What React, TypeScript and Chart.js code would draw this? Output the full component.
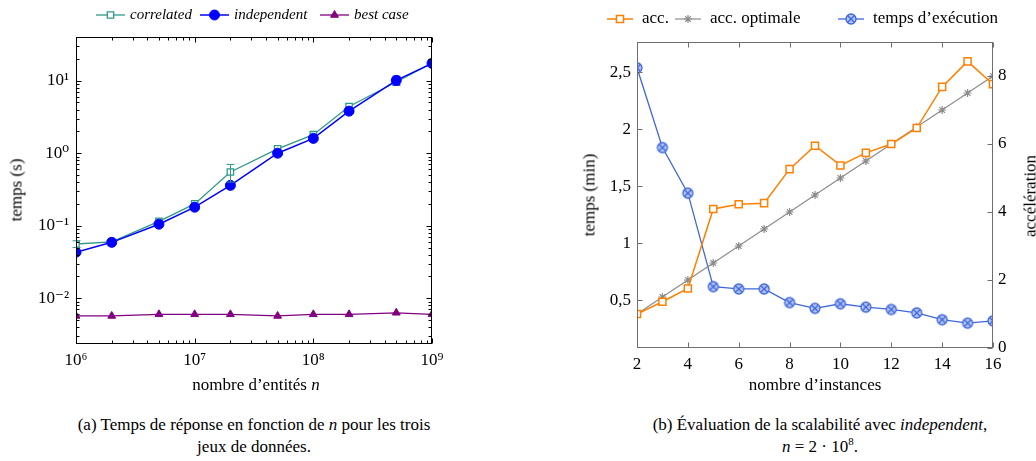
import React, { useEffect, useRef } from 'react';
import { Chart, registerables } from 'chart.js';
import { drawPoint } from 'chart.js/helpers';

Chart.register(...registerables);

// ---------- Data: (a) response time vs n ----------
const nValues = [1e6, 2e6, 5e6, 1e7, 2e7, 5e7, 1e8, 2e8, 5e8, 1e9];
const correlated = [0.056, 0.06, 0.115, 0.2, 0.55, 1.15, 1.8, 4.4, 9.6, 17.5];
const correlatedErr = [0.006, 0, 0, 0, 0.15, 0, 0, 0, 0, 0];
const independent = [0.043, 0.059, 0.105, 0.18, 0.36, 1.0, 1.6, 3.8, 10.1, 17.3];
const independentErr = [0, 0, 0, 0, 0, 0, 0, 0, 1.4, 0];
const bestCase = [0.0057, 0.0057, 0.006, 0.006, 0.006, 0.0057, 0.006, 0.006, 0.0063, 0.006];
const logXTicks = [1e6, 1e7, 1e8, 1e9];
const logXTickLabels = ['10⁶', '10⁷', '10⁸', '10⁹'];
const logYTicks = [1e-2, 1e-1, 1, 10];
const logYTickLabels = ['10⁻²', '10⁻¹', '10⁰', '10¹'];

// ---------- Data: (b) scalability ----------
const instances = [2, 3, 4, 5, 6, 7, 8, 9, 10, 11, 12, 13, 14, 15, 16];
const accel = [1.0, 1.36, 1.75, 4.09, 4.23, 4.26, 5.26, 5.95, 5.37, 5.74, 6.0, 6.47, 7.68, 8.43, 7.76];
const accelOptimal = [1, 1.5, 2, 2.5, 3, 3.5, 4, 4.5, 5, 5.5, 6, 6.5, 7, 7.5, 8];
const execTime = [2.54, 1.84, 1.44, 0.62, 0.6, 0.6, 0.48, 0.43, 0.47, 0.44, 0.42, 0.39, 0.33, 0.3, 0.32];
const instanceTicks = [2, 4, 6, 8, 10, 12, 14, 16];
const timeTicks = [0.5, 1, 1.5, 2, 2.5];
const timeTickLabels = ['0,5', '1', '1,5', '2', '2,5'];
const accelTicks = [0, 2, 4, 6, 8];
const accelTickLabels = ['0', '2', '4', '6', '8'];

const FONT = "'Liberation Serif', 'DejaVu Serif', serif";
const TEAL = '#2f9a89';
const BLUE = '#0000ff';
const PURPLE = '#800080';
const ORANGE = '#ff8000';
const GRAY = '#8c8c8c';
const ROYAL = '#3f67dc';

function minorLog(from: number, to: number) {
  const out: number[] = [];
  for (let e = from; e <= to; e++) {
    for (let m = 2; m <= 9; m++) out.push(m * Math.pow(10, e));
  }
  return out;
}

function makeOtimes(color: string, fill: string, r: number) {
  const c = document.createElement('canvas');
  const s = Math.ceil(r * 2 + 4);
  c.width = s;
  c.height = s;
  const g = c.getContext('2d')!;
  const m = s / 2;
  g.beginPath();
  g.arc(m, m, r, 0, Math.PI * 2);
  g.fillStyle = fill;
  g.fill();
  g.lineWidth = 1.3;
  g.strokeStyle = color;
  g.stroke();
  const d = r * Math.SQRT1_2;
  g.beginPath();
  g.moveTo(m - d, m - d);
  g.lineTo(m + d, m + d);
  g.moveTo(m + d, m - d);
  g.lineTo(m - d, m + d);
  g.stroke();
  return c;
}

// frame + inward tick marks
const framePlugin = {
  id: 'frame',
  afterDraw(chart: any, _args: any, opts: any) {
    const { ctx, chartArea: a } = chart;
    ctx.save();
    ctx.strokeStyle = opts.color;
    ctx.lineWidth = 1;
    const L = Math.round(a.left) + 0.5;
    const R = Math.round(a.right) - 0.5;
    const T = Math.round(a.top) + 0.5;
    const B = Math.round(a.bottom) - 0.5;
    for (const spec of opts.marks || []) {
      const scale = chart.scales[spec.scale];
      for (const v of spec.values) {
        if (v < scale.min - 1e-12 || v > scale.max + 1e-12) continue;
        const p = Math.round(scale.getPixelForValue(v)) + 0.5;
        ctx.beginPath();
        for (const side of spec.sides) {
          if (side === 'bottom') { ctx.moveTo(p, B); ctx.lineTo(p, B - spec.len); }
          if (side === 'top') { ctx.moveTo(p, T); ctx.lineTo(p, T + spec.len); }
          if (side === 'left') { ctx.moveTo(L, p); ctx.lineTo(L + spec.len, p); }
          if (side === 'right') { ctx.moveTo(R, p); ctx.lineTo(R - spec.len, p); }
        }
        ctx.stroke();
      }
    }
    ctx.lineWidth = opts.width || 1;
    ctx.strokeRect(L, T, R - L, B - T);
    ctx.restore();
  },
};

// error bars
const errorBarPlugin = {
  id: 'errorBars',
  afterDatasetsDraw(chart: any, _args: any, opts: any) {
    const { ctx } = chart;
    for (const eb of opts.sets || []) {
      const ds = chart.data.datasets[eb.datasetIndex];
      const xs = chart.scales[ds.xAxisID || 'x'];
      const ys = chart.scales[ds.yAxisID || 'y'];
      ctx.save();
      ctx.strokeStyle = ds.borderColor;
      ctx.lineWidth = 1;
      ds.data.forEach((pt: any, i: number) => {
        const e = eb.errors[i];
        if (!e) return;
        const x = Math.round(xs.getPixelForValue(pt.x)) + 0.5;
        const y1 = ys.getPixelForValue(pt.y + e);
        const y2 = ys.getPixelForValue(Math.max(pt.y - e, 1e-9));
        ctx.beginPath();
        ctx.moveTo(x, y1); ctx.lineTo(x, y2);
        ctx.moveTo(x - 4, y1); ctx.lineTo(x + 4, y1);
        ctx.moveTo(x - 4, y2); ctx.lineTo(x + 4, y2);
        ctx.stroke();
      });
      ctx.restore();
    }
  },
};

// pgfplots-like legend: line + marker + label
const lineLegendPlugin = {
  id: 'lineLegend',
  afterDraw(chart: any, _args: any, opts: any) {
    const { ctx } = chart;
    ctx.save();
    for (const it of opts.items || []) {
      const ds = chart.data.datasets[it.datasetIndex];
      const y = opts.y;
      ctx.strokeStyle = ds.borderColor;
      ctx.lineWidth = ds.borderWidth;
      ctx.beginPath();
      ctx.moveTo(it.x, y);
      ctx.lineTo(it.x + opts.lineLength, y);
      ctx.stroke();
      ctx.fillStyle = ds.pointBackgroundColor;
      ctx.strokeStyle = ds.pointBorderColor;
      ctx.lineWidth = ds.pointBorderWidth;
      drawPoint(ctx, { pointStyle: ds.pointStyle, radius: ds.pointRadius, rotation: 0, borderWidth: ds.pointBorderWidth }, it.x + opts.lineLength / 2, y);
      ctx.fillStyle = '#000';
      ctx.font = opts.font;
      ctx.textBaseline = 'middle';
      ctx.textAlign = 'left';
      ctx.fillText(ds.label, it.x + opts.textOffset, y + (opts.textDy || 0));
    }
    ctx.restore();
  },
};

function useChart(ref: React.RefObject<HTMLCanvasElement>, build: () => any) {
  useEffect(() => {
    const chart = new Chart(ref.current!, build());
    return () => chart.destroy();
  }, []);
}

function ChartA() {
  const ref = useRef<HTMLCanvasElement>(null);
  useChart(ref, () => {
    const pts = (ys: number[]) => nValues.map((x, i) => ({ x, y: ys[i] }));
    return {
      type: 'line',
      data: {
        datasets: [
          {
            label: 'correlated', data: pts(correlated), order: 1,
            borderColor: TEAL, borderWidth: 1.3, pointStyle: 'rect', pointRadius: 4.5,
            pointBackgroundColor: '#ffffff', pointBorderColor: TEAL, pointBorderWidth: 1.3,
          },
          {
            label: 'independent', data: pts(independent), order: 0,
            borderColor: BLUE, borderWidth: 1.5, pointStyle: 'circle', pointRadius: 5,
            pointBackgroundColor: BLUE, pointBorderColor: BLUE, pointBorderWidth: 1,
          },
          {
            label: 'best case', data: pts(bestCase), order: 2,
            borderColor: PURPLE, borderWidth: 1.3, pointStyle: 'triangle', pointRadius: 4.5,
            pointBackgroundColor: PURPLE, pointBorderColor: PURPLE, pointBorderWidth: 1,
          },
        ],
      },
      options: {
        responsive: false, animation: false, events: [],
        layout: { padding: { top: 37, right: 86, left: 0, bottom: 0 } },
        scales: {
          x: {
            type: 'logarithmic', min: 1e6, max: 1e9,
            grid: { display: false, drawTicks: false }, border: { display: false },
            afterBuildTicks: (s: any) => { s.ticks = logXTicks.map((v) => ({ value: v })); },
            afterFit: (s: any) => { s.height = 56; },
            ticks: {
              autoSkip: false, maxRotation: 0, padding: 6, color: '#000',
              font: { family: FONT, size: 17 },
              callback: (_v: any, i: number) => logXTickLabels[i],
            },
          },
          y: {
            type: 'logarithmic', min: 0.00234, max: 40,
            grid: { display: false, drawTicks: false }, border: { display: false },
            afterBuildTicks: (s: any) => { s.ticks = logYTicks.map((v) => ({ value: v })); },
            afterFit: (s: any) => { s.width = 76; },
            ticks: {
              autoSkip: false, padding: 7, color: '#000',
              font: { family: FONT, size: 17 },
              callback: (_v: any, i: number) => logYTickLabels[i],
            },
          },
        },
        plugins: {
          legend: { display: false },
          tooltip: { enabled: false },
          frame: {
            color: '#000',
            marks: [
              { scale: 'x', values: logXTicks, len: 5, sides: ['bottom', 'top'] },
              { scale: 'x', values: minorLog(6, 8), len: 3, sides: ['bottom', 'top'] },
              { scale: 'y', values: logYTicks, len: 5, sides: ['left', 'right'] },
              { scale: 'y', values: minorLog(-3, 1), len: 3, sides: ['left', 'right'] },
            ],
          },
          errorBars: {
            sets: [
              { datasetIndex: 0, errors: correlatedErr },
              { datasetIndex: 1, errors: independentErr },
            ],
          },
          lineLegend: {
            y: 15, lineLength: 29, textOffset: 34,
            font: `italic 15px ${FONT}`,
            items: [
              { datasetIndex: 0, x: 96 },
              { datasetIndex: 1, x: 200 },
              { datasetIndex: 2, x: 320 },
            ],
          },
        },
      },
      plugins: [framePlugin, errorBarPlugin, lineLegendPlugin],
    };
  });
  return <canvas ref={ref} width={518} height={400} style={{ position: 'absolute', left: 0, top: 0 }} />;
}

function ChartB() {
  const ref = useRef<HTMLCanvasElement>(null);
  useChart(ref, () => {
    const pts = (ys: number[]) => instances.map((x, i) => ({ x, y: ys[i] }));
    const otimes = makeOtimes(ROYAL, '#b3c4f3', 5);
    return {
      type: 'line',
      data: {
        datasets: [
          {
            label: 'acc.', data: pts(accel), yAxisID: 'y1',
            borderColor: ORANGE, borderWidth: 1.5, pointStyle: 'rect', pointRadius: 5,
            pointBackgroundColor: '#ffffff', pointBorderColor: ORANGE, pointBorderWidth: 1.5,
          },
          {
            label: 'acc. optimale', data: pts(accelOptimal), yAxisID: 'y1',
            borderColor: GRAY, borderWidth: 1.2, pointStyle: 'star', pointRadius: 4,
            pointBackgroundColor: GRAY, pointBorderColor: GRAY, pointBorderWidth: 1.2,
          },
          {
            label: 'temps d’exécution', data: pts(execTime), yAxisID: 'y',
            borderColor: ROYAL, borderWidth: 1.3, pointStyle: otimes, pointRadius: 5,
            pointBackgroundColor: ROYAL, pointBorderColor: ROYAL, pointBorderWidth: 1,
          },
        ],
      },
      options: {
        responsive: false, animation: false, events: [],
        layout: { padding: { top: 42, right: 0, left: 0, bottom: 0 } },
        scales: {
          x: {
            type: 'linear', min: 2, max: 16,
            grid: { display: false, drawTicks: false }, border: { display: false },
            afterBuildTicks: (s: any) => { s.ticks = instanceTicks.map((v) => ({ value: v })); },
            afterFit: (s: any) => { s.height = 52; },
            ticks: {
              autoSkip: false, maxRotation: 0, padding: 6, color: '#000',
              font: { family: FONT, size: 17 },
            },
          },
          y: {
            type: 'linear', position: 'left', min: 0.082, max: 2.766,
            grid: { display: false, drawTicks: false }, border: { display: false },
            afterBuildTicks: (s: any) => { s.ticks = timeTicks.map((v) => ({ value: v })); },
            afterFit: (s: any) => { s.width = 119; },
            ticks: {
              autoSkip: false, padding: 6, color: '#000',
              font: { family: FONT, size: 17 },
              callback: (_v: any, i: number) => timeTickLabels[i],
            },
          },
          y1: {
            type: 'linear', position: 'right', min: 0, max: 9,
            grid: { display: false, drawTicks: false }, border: { display: false },
            afterBuildTicks: (s: any) => { s.ticks = accelTicks.map((v) => ({ value: v })); },
            afterFit: (s: any) => { s.width = 43; },
            ticks: {
              autoSkip: false, padding: 5, color: '#000',
              font: { family: FONT, size: 17 },
              callback: (_v: any, i: number) => accelTickLabels[i],
            },
          },
        },
        plugins: {
          legend: { display: false },
          tooltip: { enabled: false },
          frame: {
            color: '#6e6e6e',
            marks: [
              { scale: 'x', values: instanceTicks, len: 5, sides: ['bottom', 'top'] },
              { scale: 'y', values: timeTicks, len: 5, sides: ['left'] },
              { scale: 'y1', values: accelTicks, len: 5, sides: ['right'] },
            ],
          },
          lineLegend: {
            y: 19, lineLength: 26, textOffset: 35,
            font: `17px ${FONT}`,
            items: [
              { datasetIndex: 0, x: 89 },
              { datasetIndex: 1, x: 157 },
              { datasetIndex: 2, x: 320 },
            ],
          },
        },
      },
      plugins: [framePlugin, lineLegendPlugin],
    };
  });
  return <canvas ref={ref} width={518} height={400} style={{ position: 'absolute', left: 518, top: 0 }} />;
}

const textStyle = (x: number, y: number, size: number, rotate = false): React.CSSProperties => ({
  position: 'absolute', left: x, top: y, fontFamily: FONT, fontSize: size, whiteSpace: 'nowrap',
  lineHeight: 1, color: '#000',
  transform: `translate(-50%, -50%)${rotate ? ' rotate(-90deg)' : ''}`,
});

export default function App() {
  useEffect(() => {
    document.body.style.margin = '0';
  }, []);
  return (
    <div style={{ position: 'relative', width: 1036, height: 461, overflow: 'hidden', background: '#fff' }}>
      <ChartA />
      <ChartB />
      <div style={textStyle(16, 190, 17, true)}>temps (s)</div>
      <div style={textStyle(256, 384, 17)}>nombre d’entités <i>n</i></div>
      <div style={textStyle(589, 195, 17, true)}>temps (min)</div>
      <div style={textStyle(1030, 196, 17, true)}>accélération</div>
      <div style={textStyle(815, 384, 17)}>nombre d’instances</div>
      <div style={{ ...textStyle(254, 436, 17), textAlign: 'center', lineHeight: '22px' }}>
        (a) Temps de réponse en fonction de <i>n</i> pour les trois<br />jeux de données.
      </div>
      <div style={{ ...textStyle(820, 436, 17), textAlign: 'center', lineHeight: '22px' }}>
        (b) Évaluation de la scalabilité avec <i>independent</i>,<br /><i>n</i> = 2 · 10<sup style={{ fontSize: 11, lineHeight: 0 }}>8</sup>.
      </div>
    </div>
  );
}
